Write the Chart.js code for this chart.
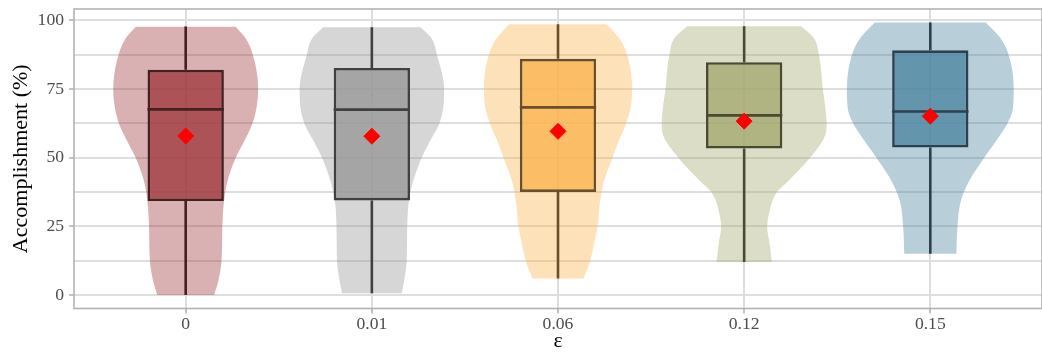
<!DOCTYPE html>
<html>
<head>
<meta charset="utf-8">
<script src="https://cdn.jsdelivr.net/npm/chart.js@4.4.1/dist/chart.umd.min.js"></script>
<style>
  html, body { margin: 0; padding: 0; background: #fff; overflow: hidden; }
  #wrap { position: relative; width: 1051px; height: 356px; }
</style>
</head>
<body>
<div id="wrap"><canvas id="chart" width="1051" height="356"></canvas></div>
<script>
// ε levels on the x axis
const categories = ['0', '0.01', '0.06', '0.12', '0.15'];

// Box-plot statistics per level (accomplishment, %)
const whiskerLow  = [0.0, 0.6, 6.0, 12.0, 15.0];
const q1          = [34.2, 34.4, 37.5, 53.3, 53.7];
const median      = [67.6, 67.5, 68.3, 65.4, 66.8];
const q3          = [82.0, 82.7, 86.0, 84.8, 89.1];
const whiskerHigh = [97.8, 97.5, 98.6, 97.9, 99.2];
const means       = [57.9, 57.8, 59.6, 63.3, 65.1];

// Y axis: labelled ticks and all grid positions (major + minor)
const yTicks = [0, 25, 50, 75, 100];
const yGrid  = [0, 12.5, 25, 37.5, 50, 62.5, 75, 87.5, 100];

// Violin density profiles: [value, half-width in category units], top to bottom
const violin0 = [[97.7, .268], [93.5, .322], [87.4, .361], [74.9, .389], [67.7, .379], [62.2, .357],
                 [55.8, .313], [49.8, .268], [41.4, .224], [34.2, .206], [24.8, .197], [12.2, .192],
                 [5.4, .176], [0.0, .153]];
const violin1 = [[97.5, .262], [93.5, .320], [87.4, .350], [74.9, .388], [67.7, .382], [62.2, .361],
                 [55.8, .311], [49.8, .267], [41.4, .222], [34.2, .199], [24.8, .190], [12.2, .187],
                 [5.4, .174], [0.6, .160]];
const violin2 = [[98.6, .262], [93.5, .329], [87.4, .372], [74.9, .398], [67.7, .389], [62.2, .364],
                 [55.8, .324], [49.8, .292], [41.4, .247], [34.2, .226], [24.8, .212], [17.4, .190],
                 [12.2, .172], [6.0, .137]];
const violin3 = [[97.9, .307], [93.5, .375], [87.4, .402], [74.9, .423], [67.7, .437], [62.2, .443],
                 [57.6, .432], [49.8, .352], [41.4, .236], [37.2, .174], [29.4, .133], [24.6, .124],
                 [18.6, .137], [12.0, .148]];
const violin4 = [[99.2, .298], [93.5, .377], [87.4, .421], [74.9, .448], [67.7, .443], [62.2, .412],
                 [55.8, .350], [49.8, .288], [41.4, .208], [34.2, .164], [24.8, .146], [15.0, .140]];
const violins = [violin0, violin1, violin2, violin3, violin4];

// Colours per level
const palette = [
  { rgb: [160, 60, 65],   line: '#44201f' },
  { rgb: [152, 152, 152], line: '#404040' },
  { rgb: [250, 180, 80],  line: '#6b4f2a' },
  { rgb: [165, 170, 112], line: '#4a4a33' },
  { rgb: [77, 135, 160],  line: '#2c414d' }
];
const rgba = (c, a) => `rgba(${c[0]},${c[1]},${c[2]},${a})`;

const serif = "'Liberation Serif', 'Times New Roman', serif";
const BOX_HALF = 0.205;   // half box width, category units

// Monotone cubic (Fritsch–Carlson) through [value, width] pairs; returns w(v)
function monotoneWidth(profile) {
  const pts = profile.slice().sort((a, b) => a[0] - b[0]);
  const n = pts.length;
  const xs = pts.map(p => p[0]), ys = pts.map(p => p[1]);
  const d = [], m = new Array(n);
  for (let k = 0; k < n - 1; k++) d.push((ys[k + 1] - ys[k]) / (xs[k + 1] - xs[k]));
  m[0] = d[0]; m[n - 1] = d[n - 2];
  for (let k = 1; k < n - 1; k++) m[k] = d[k - 1] * d[k] <= 0 ? 0 : (d[k - 1] + d[k]) / 2;
  for (let k = 0; k < n - 1; k++) {
    if (d[k] === 0) { m[k] = 0; m[k + 1] = 0; continue; }
    const a = m[k] / d[k], b = m[k + 1] / d[k], s = a * a + b * b;
    if (s > 9) { const t = 3 / Math.sqrt(s); m[k] = t * a * d[k]; m[k + 1] = t * b * d[k]; }
  }
  return (v) => {
    let k = 0;
    while (k < n - 2 && v > xs[k + 1]) k++;
    const h = xs[k + 1] - xs[k], t = Math.min(Math.max((v - xs[k]) / h, 0), 1);
    const t2 = t * t, t3 = t2 * t;
    return (2 * t3 - 3 * t2 + 1) * ys[k] + (t3 - 2 * t2 + t) * h * m[k] +
           (-2 * t3 + 3 * t2) * ys[k + 1] + (t3 - t2) * h * m[k + 1];
  };
}

// Violins sit underneath the box plots
const violinPlugin = {
  id: 'violins',
  beforeDatasetsDraw(chart) {
    const { ctx, chartArea: a, scales: { x, y } } = chart;
    ctx.save();
    ctx.beginPath();
    ctx.rect(a.left, a.top, a.right - a.left, a.bottom - a.top);
    ctx.clip();
    violins.forEach((profile, i) => {
      const c = i + 1;
      const w = monotoneWidth(profile);
      const vTop = profile[0][0], vBot = profile[profile.length - 1][0];
      const steps = Math.ceil(Math.abs(y.getPixelForValue(vBot) - y.getPixelForValue(vTop)));
      const vals = [];
      for (let s = 0; s <= steps; s++) vals.push(vTop + (vBot - vTop) * s / steps);
      ctx.beginPath();
      vals.forEach((v, k) => {
        const px = x.getPixelForValue(c + w(v)), py = y.getPixelForValue(v);
        if (k === 0) ctx.moveTo(px, py); else ctx.lineTo(px, py);
      });
      for (let k = vals.length - 1; k >= 0; k--) {
        ctx.lineTo(x.getPixelForValue(c - w(vals[k])), y.getPixelForValue(vals[k]));
      }
      ctx.closePath();
      ctx.fillStyle = rgba(palette[i].rgb, 0.4);
      ctx.fill();
    });
    ctx.restore();
  }
};

// Grey frame round the panel
const panelBorder = {
  id: 'panelBorder',
  afterDatasetsDraw(chart) {
    const { ctx, chartArea: a } = chart;
    ctx.save();
    ctx.strokeStyle = '#b3b3b3';
    ctx.lineWidth = 1.6;
    ctx.strokeRect(a.left, a.top, a.right - a.left, a.bottom - a.top);
    ctx.restore();
  }
};

// Whiskers and median bar for each level, one line dataset each
const whiskerSets = categories.map((_, i) => {
  const c = i + 1;
  return {
    type: 'line',
    data: [
      { x: c, y: whiskerLow[i] }, { x: c, y: q1[i] }, { x: c, y: null },
      { x: c, y: q3[i] }, { x: c, y: whiskerHigh[i] }, { x: c, y: null },
      { x: c - BOX_HALF, y: median[i] }, { x: c + BOX_HALF, y: median[i] }
    ],
    borderColor: palette[i].line,
    borderWidth: 2.6,
    borderCapStyle: 'butt',
    spanGaps: false,
    pointRadius: 0,
    fill: false,
    order: 1
  };
});

new Chart(document.getElementById('chart'), {
  type: 'bar',
  data: {
    datasets: [
      {
        type: 'line',
        data: means.map((m, i) => ({ x: i + 1, y: m })),
        showLine: false,
        pointStyle: 'rectRot',
        pointRadius: 8,
        pointBackgroundColor: '#ff0000',
        pointBorderColor: '#ff0000',
        pointBorderWidth: 1,
        order: 0
      },
      ...whiskerSets,
      {
        type: 'bar',
        data: categories.map((_, i) => ({ x: i + 1, y: [q1[i], q3[i]] })),
        backgroundColor: palette.map(p => rgba(p.rgb, 0.8)),
        borderColor: palette.map(p => p.line),
        borderWidth: 2.6,
        borderSkipped: false,
        categoryPercentage: 1,
        barPercentage: 2 * BOX_HALF,
        order: 2
      }
    ]
  },
  options: {
    responsive: false,
    animation: false,
    events: [],
    layout: { padding: { top: 5.5, left: 0, right: 0, bottom: 0 } },
    plugins: { legend: { display: false }, tooltip: { enabled: false } },
    scales: {
      x: {
        type: 'linear',
        min: 0.4,
        max: 5.6,
        offset: false,
        afterBuildTicks: (s) => { s.ticks = categories.map((_, i) => ({ value: i + 1 })); },
        afterFit: (s) => { s.height = 47.5; s.paddingLeft = 0; s.paddingRight = 0; },
        ticks: {
          autoSkip: false,
          maxRotation: 0,
          padding: 0,
          color: '#4d4d4d',
          font: { family: serif, size: 17.6 },
          callback: (v) => categories[v - 1] ?? ''
        },
        grid: { offset: false, color: '#dedede', lineWidth: 2, tickLength: 5, tickColor: '#b3b3b3', tickWidth: 1.6 },
        border: { display: false },
        title: {
          display: true, text: 'ε', color: '#000',
          font: { family: serif, size: 22 },
          padding: { top: 0, bottom: 1.4 }
        }
      },
      y: {
        min: -4.96,
        max: 104.16,
        afterBuildTicks: (s) => { s.ticks = yGrid.map(v => ({ value: v })); },
        afterFit: (s) => { s.width = 74; s.paddingTop = 0; s.paddingBottom = 0; },
        ticks: {
          autoSkip: false,
          padding: 5,
          color: '#4d4d4d',
          font: { family: serif, size: 17.6 },
          callback: (v) => yTicks.includes(v) ? String(v) : ''
        },
        grid: {
          color: '#dedede', lineWidth: 2, tickLength: 5, tickWidth: 1.6,
          tickColor: (ctx) => yTicks.includes(ctx.tick && ctx.tick.value) ? '#b3b3b3' : 'rgba(0,0,0,0)'
        },
        border: { display: false },
        title: {
          display: true, text: 'Accomplishment (%)', color: '#000',
          font: { family: serif, size: 22 },
          padding: { top: 8.4, bottom: 0 }
        }
      }
    }
  },
  plugins: [violinPlugin, panelBorder]
});
</script>
</body>
</html>
